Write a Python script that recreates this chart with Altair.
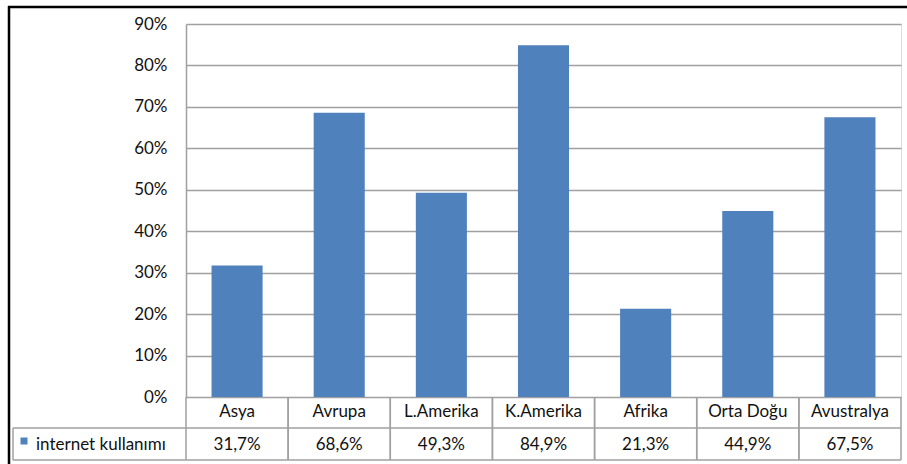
import altair as alt
import pandas as pd

# Internet usage share by region (percent)
categories = ["Asya", "Avrupa", "L.Amerika", "K.Amerika", "Afrika", "Orta Doğu", "Avustralya"]
values = [31.7, 68.6, 49.3, 84.9, 21.3, 44.9, 67.5]
series_name = "internet kullanımı"
y_ticks = [0, 0.1, 0.2, 0.3, 0.4, 0.5, 0.6, 0.7, 0.8, 0.9]

df = pd.DataFrame({
    "cat": categories,
    "share": [v / 100 for v in values],
    "label": [f"{v:.1f}%".replace(".", ",") for v in values],
})
one = pd.DataFrame({"name": [series_name]})

W, H = 715, 373          # plot area
ROW1, ROW2 = 404, 436     # data-table row lines (below plot)
LEFT_COL = -173           # left edge of the series-name column
FONT = "Lato"
FS = 17
TXT = "#111111"
GRID = "#a0a0a0"
BLUE = "#4f81bd"

band = alt.Scale(paddingInner=0, paddingOuter=0)
xcat = alt.X("cat:N", sort=categories, scale=band, axis=None)

base = alt.Chart(df)
single = alt.Chart(one)

bars = base.mark_bar(color=BLUE, width=alt.RelativeBandSize(0.5)).encode(
    x=xcat,
    y=alt.Y("share:Q",
            scale=alt.Scale(domain=[0, 0.9], nice=False),
            axis=alt.Axis(format=".0%", values=y_ticks, title=None,
                          grid=True, gridColor=GRID, gridWidth=1.5,
                          ticks=False, domain=True, domainColor=GRID,
                          domainWidth=1.5, labelPadding=19,
                          labelFont=FONT, labelFontSize=FS,
                          labelColor=TXT)),
)

# data table: category header row and value row
cat_text = base.mark_text(font=FONT, fontSize=FS, color=TXT,
                          baseline="alphabetic").encode(
    x=xcat, y=alt.value(393), text="cat:N")
val_text = base.mark_text(font=FONT, fontSize=FS, color=TXT,
                          baseline="alphabetic").encode(
    x=xcat, y=alt.value(425.5), text="label:N")

sep_left = base.mark_rule(color=GRID, strokeWidth=1.5).encode(
    x=alt.X("cat:N", sort=categories, bandPosition=0, scale=band, axis=None),
    y=alt.value(H), y2=alt.value(ROW2))
sep_right = base.mark_rule(color=GRID, strokeWidth=1.5).encode(
    x=alt.X("cat:N", sort=categories, bandPosition=1, scale=band, axis=None),
    y=alt.value(H), y2=alt.value(ROW2))

h_mid = single.mark_rule(color=GRID, strokeWidth=1.5).encode(
    x=alt.value(LEFT_COL), x2=alt.value(W), y=alt.value(ROW1))
h_bot = single.mark_rule(color=GRID, strokeWidth=1.5).encode(
    x=alt.value(LEFT_COL), x2=alt.value(W), y=alt.value(ROW2))
v_first = single.mark_rule(color=GRID, strokeWidth=1.5).encode(
    x=alt.value(LEFT_COL), y=alt.value(ROW1), y2=alt.value(ROW2))

legend_key = single.mark_square(color=BLUE, size=49, opacity=1).encode(
    x=alt.value(-162), y=alt.value(417))
legend_text = single.mark_text(font=FONT, fontSize=FS, color=TXT,
                               align="left", baseline="alphabetic").encode(
    x=alt.value(-150), y=alt.value(425.5), text="name:N")

# outer black frame (top and left edges)
frame_top = single.mark_rule(color="black", strokeWidth=2.5).encode(
    x=alt.value(-178), x2=alt.value(W + 10), y=alt.value(-17))
frame_left = single.mark_rule(color="black", strokeWidth=2.5).encode(
    x=alt.value(-177), y=alt.value(-18), y2=alt.value(H + 70))

chart = alt.layer(
    bars, sep_left, sep_right, h_mid, h_bot, v_first,
    cat_text, val_text, legend_key, legend_text, frame_top, frame_left,
).properties(
    width=W, height=H,
    autosize=alt.AutoSizeParams(type="none"),
    padding={"left": 186, "top": 24, "right": 6, "bottom": 67},
).configure_view(stroke=None).configure(background="white")

chart.save("out.html", embed_options={"renderer": "svg", "actions": False})
